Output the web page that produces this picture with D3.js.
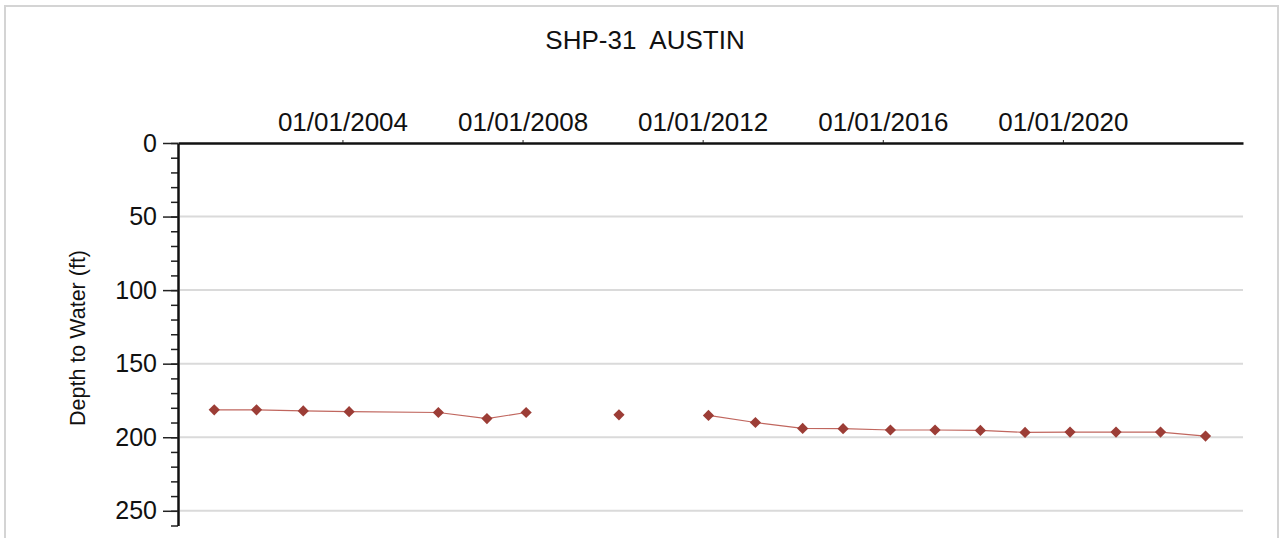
<!DOCTYPE html>
<html>
<head>
<meta charset="utf-8">
<script src="https://cdn.jsdelivr.net/npm/d3@7"></script>
<style>
  body { margin: 0; background: #fff; }
  svg { display: block; font-family: Arial, "Liberation Sans", sans-serif; }
</style>
</head>
<body>
<div id="chart"></div>
<script>
// chart size
const width = 1282
const height = 538

// data
const title = "SHP-31  AUSTIN"
const yLabel = "Depth to Water (ft)"
const dates = ["2001-02-25", "2002-02-03", "2003-02-17", "2004-02-24", "2006-02-17",
  "2007-03-18", "2008-01-30", "2009-02-15", "2010-02-21", "2011-02-15", "2012-02-17",
  "2013-03-04", "2014-03-22", "2015-02-13", "2016-03-03", "2017-02-28", "2018-03-03",
  "2019-02-28", "2020-02-28", "2021-03-07", "2022-03-03", "2023-03-03"]
const depths = [181.4, 181.4, 182.1, 182.6, 183.2, 187.3, 183.2, null, 184.8, null, 185.2,
  190.0, 194.0, 194.2, 195.1, 195.1, 195.4, 196.7, 196.5, 196.5, 196.5, 199.2]
const xTicks = ["2004-01-01", "2008-01-01", "2012-01-01", "2016-01-01", "2020-01-01"]
const yTicks = [0, 50, 100, 150, 200, 250]
const yMinor = d3.range(0, 261, 10)

const parse = d3.timeParse("%Y-%m-%d")
const data = dates.map((d, i) => ({ date: parse(d), depth: depths[i] }))

const svg = d3.select("#chart").append("svg")
  .attr("width", width)
  .attr("height", height)

// outer frame
svg.append("rect")
  .attr("x", 5).attr("y", 6)
  .attr("width", 1273).attr("height", 560)
  .attr("fill", "none")
  .attr("stroke", "#d4d4d4")
  .attr("stroke-width", 2)

// scales
const x = d3.scaleTime()
  .domain([new Date(2000, 4, 7), new Date(2024, 0, 1)])
  .range([178, 1243])
const y = d3.scaleLinear()
  .domain([0, 260])
  .range([143, 525.5])

// horizontal grid
svg.append("g")
  .selectAll("line")
  .data(yTicks.filter(d => d > 0))
  .enter()
  .append("line")
  .attr("x1", 180).attr("x2", 1243)
  .attr("y1", d => y(d)).attr("y2", d => y(d))
  .attr("stroke", "#dadada")
  .attr("stroke-width", 2)

// y axis: minor ticks then major ticks with labels
svg.append("g")
  .attr("transform", "translate(178,0)")
  .call(d3.axisLeft(y).tickValues(yMinor).tickSize(7).tickFormat(""))
  .call(g => g.select(".domain").remove())
  .selectAll("line").attr("stroke", "#222").attr("stroke-width", 1.5)

const yAxis = svg.append("g")
  .attr("transform", "translate(178,0)")
  .call(d3.axisLeft(y).tickValues(yTicks).tickSize(15).tickSizeOuter(0).tickPadding(6))
yAxis.select(".domain").attr("stroke", "#111").attr("stroke-width", 2.5)
yAxis.selectAll(".tick line").attr("stroke", "#222").attr("stroke-width", 1.5)
yAxis.selectAll("text")
  .attr("font-size", 25)
  .attr("font-family", "Arial, 'Liberation Sans', sans-serif")
  .attr("fill", "#111")

// x axis on top
const xAxis = svg.append("g")
  .attr("transform", "translate(0,143)")
  .call(d3.axisTop(x)
    .tickValues(xTicks.map(parse))
    .tickFormat(d3.timeFormat("%m/%d/%Y"))
    .tickSize(3).tickSizeOuter(0).tickPadding(9))
xAxis.select(".domain").attr("stroke", "#111").attr("stroke-width", 2.5)
xAxis.selectAll(".tick line").attr("stroke", "#222")
xAxis.selectAll("text")
  .attr("font-size", 26)
  .attr("font-family", "Arial, 'Liberation Sans', sans-serif")
  .attr("fill", "#111")

// title (keep the double space)
svg.append("text")
  .attr("x", 645).attr("y", 49)
  .attr("text-anchor", "middle")
  .attr("font-size", 26)
  .attr("fill", "#111")
  .style("white-space", "pre")
  .text(title)

// y label
svg.append("text")
  .attr("transform", "translate(85,338) rotate(-90)")
  .attr("text-anchor", "middle")
  .attr("font-size", 21.5)
  .attr("fill", "#111")
  .text(yLabel)

// series line, broken where no reading
const line = d3.line()
  .defined(d => d.depth != null)
  .x(d => x(d.date))
  .y(d => y(d.depth))

svg.append("path")
  .datum(data)
  .attr("d", line)
  .attr("fill", "none")
  .attr("stroke", "#c0665e")
  .attr("stroke-width", 1.2)

// diamond markers
svg.append("g")
  .selectAll("path")
  .data(data.filter(d => d.depth != null))
  .enter()
  .append("path")
  .attr("d", d3.symbol().type(d3.symbolDiamond2).size(80))
  .attr("transform", d => "translate(" + x(d.date) + "," + y(d.depth) + ")")
  .attr("fill", "#9c3d36")
</script>
</body>
</html>
